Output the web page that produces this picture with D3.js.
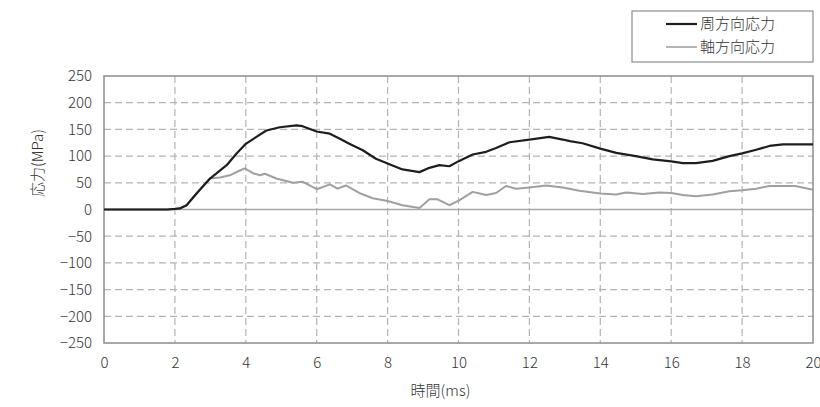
<!DOCTYPE html>
<html><head><meta charset="utf-8">
<script src="https://cdn.jsdelivr.net/npm/d3@7"></script>
<style>body{margin:0;background:#fff;} text{font-family:"Noto Sans CJK JP","Noto Sans",sans-serif;fill:#333;}</style>
</head><body><svg id="c" width="820" height="407"></svg>
<script>
const seriesNames = ["周方向応力", "軸方向応力"];
const hoopTime = [0,1.8,2.0,2.14,2.33,2.61,2.99,3.46,3.74,4.0,4.3,4.58,4.96,5.43,5.6,6.0,6.37,6.64,6.92,7.3,7.67,8.0,8.42,8.9,9.18,9.46,9.74,10.02,10.4,10.78,11.06,11.44,12.0,12.56,12.94,13.14,13.5,14.0,14.45,15.0,15.48,16.0,16.33,16.7,17.17,17.64,18.0,18.4,18.77,19.15,20];
const hoopStress = [0,0,1,2,8,30,58,83,105,123,136,148,154,157.5,156,146,142,133,123,111,95,86,75,70,78,83,81,91,103,108,115,126,131,136,131,128,124,114,106,100,94,90,87,87,91,100,105,112,119,122,122];
const axialTime = [0,1.8,2.0,2.14,2.33,2.61,2.99,3.27,3.55,3.83,3.97,4.2,4.4,4.54,4.86,5.33,5.6,6.0,6.37,6.59,6.82,7.2,7.58,8.0,8.42,8.9,9.18,9.41,9.74,10.02,10.4,10.78,11.06,11.34,11.62,12.0,12.47,12.94,13.41,14.0,14.45,14.73,15.2,15.67,16.0,16.33,16.7,17.17,17.64,18.0,18.4,18.77,19.5,20];
const axialStress = [0,0,1,2,8,30,58,60,64,73,77,68,64,67,58,50,52,38,47,39,45,31,21,16,8,3,19,19,8,17,33,27,31,44,39,41,45,41,35,30,28,32,29,32,31,27,25,28,34,36,39,44,44,37];
const xTicks = [0,2,4,6,8,10,12,14,16,18,20];
const yTicks = [250,200,150,100,50,0,-50,-100,-150,-200,-250];
const xTitle = "時間(ms)";
const yTitle = "応力(MPa)";

const svg = d3.select("#c");
const L = 104, R = 813, T = 76, B = 343;
const x = d3.scaleLinear().domain([0,20]).range([L,R]);
const y = d3.scaleLinear().domain([-250,250]).range([B,T]);

// grid
const g = svg.append("g");
g.selectAll(".hg").data(yTicks.filter(v => v !== 0 && v !== 250 && v !== -250)).join("line")
  .attr("x1",L).attr("x2",R).attr("y1",d=>y(d)).attr("y2",d=>y(d))
  .attr("stroke","#b4b4b4").attr("stroke-width",1.2).attr("stroke-dasharray","7,4");
g.selectAll(".vg").data(xTicks.filter(v => v !== 0 && v !== 20)).join("line")
  .attr("x1",d=>x(d)).attr("x2",d=>x(d)).attr("y1",T).attr("y2",B)
  .attr("stroke","#b4b4b4").attr("stroke-width",1.2).attr("stroke-dasharray","7,4");
g.append("line").attr("x1",L).attr("x2",R).attr("y1",y(0)).attr("y2",y(0))
  .attr("stroke","#a8a8a8").attr("stroke-width",1.5);
g.append("rect").attr("x",L).attr("y",T).attr("width",R-L).attr("height",B-T)
  .attr("fill","none").attr("stroke","#8c8c8c").attr("stroke-width",1.5);

// axes
const xAxis = d3.axisBottom(x).tickValues(xTicks).tickSize(0).tickPadding(14);
const xa = svg.append("g").attr("transform",`translate(0,${B})`).call(xAxis);
xa.select(".domain").remove();
xa.selectAll("text").style("font-size","15px").style("font-weight","300").attr("fill","#333").style("font-family","'Noto Sans CJK JP'");
const yAxis = d3.axisLeft(y).tickValues(yTicks).tickSize(0).tickPadding(12);
const ya = svg.append("g").attr("transform",`translate(${L},0)`).call(yAxis);
ya.select(".domain").remove();
ya.selectAll("text").style("font-size","15px").style("font-weight","300").attr("fill","#333").style("font-family","'Noto Sans CJK JP'");

// titles
svg.append("text").attr("x",(L+R)/2-18).attr("y",396).attr("text-anchor","middle")
  .style("font-size","15px").style("font-weight","300").text(xTitle);
svg.append("text").attr("transform",`translate(43,163) rotate(-90)`).attr("text-anchor","middle")
  .style("font-size","15px").style("font-weight","300").text(yTitle);

// lines
const line = d3.line().x(d=>x(d[0])).y(d=>y(d[1]));
const axialData = axialTime.map((t,i)=>[t,axialStress[i]]);
const hoopData = hoopTime.map((t,i)=>[t,hoopStress[i]]);
svg.append("path").datum(axialData).attr("d",line).attr("fill","none")
  .attr("stroke","#a0a0a0").attr("stroke-width",2).attr("stroke-linejoin","round");
svg.append("path").datum(hoopData).attr("d",line).attr("fill","none")
  .attr("stroke","#1e1e1e").attr("stroke-width",2.2).attr("stroke-linejoin","round");

// legend
const lg = svg.append("g");
lg.append("rect").attr("x",632).attr("y",11).attr("width",181).attr("height",51)
  .attr("fill","#fff").attr("stroke","#8c8c8c").attr("stroke-width",1.2);
const ls = [{c:"#1e1e1e",w:2.2,yy:24},{c:"#a0a0a0",w:1.6,yy:47}];
ls.forEach((s,i)=>{
  lg.append("line").attr("x1",666).attr("x2",697).attr("y1",s.yy).attr("y2",s.yy)
    .attr("stroke",s.c).attr("stroke-width",s.w);
  lg.append("text").attr("x",700).attr("y",s.yy+5).style("font-size","15px").style("font-weight","300").text(seriesNames[i]);
});
</script></body></html>
